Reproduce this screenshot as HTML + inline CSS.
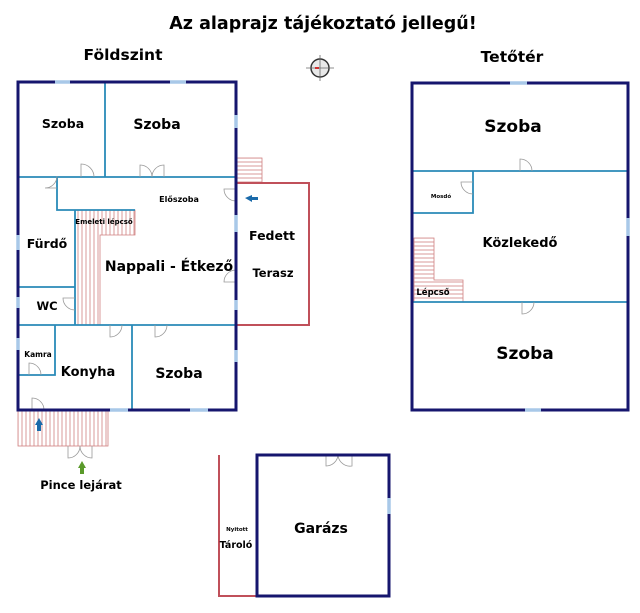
<!DOCTYPE html>
<html><head><meta charset="utf-8"><style>
body{margin:0;background:#fff;width:640px;height:608px;overflow:hidden}
text{font-family:"DejaVu Sans","Liberation Sans",sans-serif;font-weight:bold;fill:#000}
</style></head><body>
<svg width="640" height="608" viewBox="0 0 640 608" xmlns="http://www.w3.org/2000/svg">
<defs>
<pattern id="hv" width="4" height="10" patternUnits="userSpaceOnUse"><line x1="2" y1="0" x2="2" y2="10" stroke="#d08080" stroke-width="0.8"/></pattern>
<pattern id="hh" width="10" height="4" patternUnits="userSpaceOnUse"><line x1="0" y1="2" x2="10" y2="2" stroke="#d08080" stroke-width="0.8"/></pattern>
</defs>
<text x="323" y="29" font-size="17.5" text-anchor="middle">Az alaprajz tájékoztató jellegű!</text>
<text x="123" y="60" font-size="15.5" text-anchor="middle">Földszint</text>
<text x="512" y="62" font-size="15.5" text-anchor="middle">Tetőtér</text>
<!-- compass -->
<circle cx="320" cy="68" r="9" fill="#e8e8e8" stroke="#333" stroke-width="1.5"/>
<line x1="320" y1="55" x2="320" y2="81" stroke="#666" stroke-width="0.8"/>
<line x1="306" y1="68" x2="334" y2="68" stroke="#666" stroke-width="0.8"/>
<rect x="315" y="67" width="4" height="2" fill="#d03030"/>

<rect x="236" y="158" width="26" height="25" fill="url(#hh)" stroke="#d08080" stroke-width="0.8"/>
<path d="M75 210 H135 V235 H100 V325 H75 Z" fill="url(#hv)" stroke="#d08080" stroke-width="0.8"/>
<rect x="18" y="410" width="90" height="36" fill="url(#hv)" stroke="#d08080" stroke-width="0.8"/>
<path d="M414 238 H434 V280 H463 V302 H414 Z" fill="url(#hh)" stroke="#d08080" stroke-width="0.8"/>

<rect x="236" y="183" width="73" height="142" fill="none" stroke="#c0505a" stroke-width="2"/>
<path d="M219 455 V596 H257" fill="none" stroke="#c0505a" stroke-width="2"/>

<g stroke="#2a8ab8" stroke-width="1.8" fill="none">
<path d="M105 82 V177 M18 177 H236 M57 177 V210 H135 M75 210 V325 M18 287 H75 M18 325 H236 M55 325 V375 H18 M132 325 V410"/>
<path d="M412 171 H628 M473 171 V213 H412 M412 302 H628"/>
</g>
<g stroke="#999" stroke-width="0.8" fill="none">
<path d="M81 177 V164 A13 13 0 0 1 94 177"/>
<path d="M140 177 V165 A12 12 0 0 1 152 177 M164 177 V165 A12 12 0 0 0 152 177"/>
<path d="M57 188 H45 A12 12 0 0 0 57 176"/>
<path d="M236 189 H224 A12 12 0 0 0 236 201"/>
<path d="M236 282 H224 A12 12 0 0 1 236 270"/>
<path d="M75 298 H63 A12 12 0 0 0 75 310"/>
<path d="M110 325 V337 A12 12 0 0 0 122 325"/>
<path d="M155 325 V337 A12 12 0 0 0 167 325"/>
<path d="M29 375 V363 A12 12 0 0 1 41 375"/>
<path d="M32 410 V398 A12 12 0 0 1 44 410"/>
<path d="M68 446 V458 A12 12 0 0 0 80 446 M92 446 V458 A12 12 0 0 1 80 446"/>
<path d="M326 455 V466 A12 12 0 0 0 338 455 M352 455 V466 A12 12 0 0 1 338 455"/>
<path d="M520 171 V159 A12 12 0 0 1 532 171"/>
<path d="M473 182 H461 A12 12 0 0 0 473 194"/>
<path d="M522 302 V314 A12 12 0 0 0 534 302"/>
</g>
<g stroke="#16166e" stroke-width="3" fill="none">
<rect x="18" y="82" width="218" height="328"/>
<rect x="412" y="83" width="216" height="327"/>
<rect x="257" y="455" width="132" height="141"/>
</g>
<g stroke="#a8c8e8" stroke-width="3.5">
<line x1="55" y1="82" x2="70" y2="82"/><line x1="170" y1="82" x2="186" y2="82"/>
<line x1="236" y1="115" x2="236" y2="128"/><line x1="236" y1="215" x2="236" y2="232"/>
<line x1="236" y1="300" x2="236" y2="310"/><line x1="236" y1="350" x2="236" y2="362"/>
<line x1="18" y1="235" x2="18" y2="250"/><line x1="18" y1="297" x2="18" y2="308"/><line x1="18" y1="338" x2="18" y2="350"/>
<line x1="110" y1="410" x2="128" y2="410"/><line x1="190" y1="410" x2="208" y2="410"/>
<line x1="510" y1="83" x2="527" y2="83"/><line x1="525" y1="410" x2="541" y2="410"/>
<line x1="628" y1="218" x2="628" y2="236"/><line x1="389" y1="498" x2="389" y2="514"/>
</g>
<path d="M245 198 L252 195 V197 H258 V200 H252 V202 Z" fill="#1a6aaa"/>
<path d="M39 418 L35 425 H37 V431 H41 V425 H43 Z" fill="#1a6aaa"/>
<path d="M82 461 L78 468 H80 V474 H84 V468 H86 Z" fill="#5a9a2a"/>

<text x="63" y="128" font-size="12.5" text-anchor="middle">Szoba</text>
<text x="157" y="129" font-size="14" text-anchor="middle">Szoba</text>
<text x="179" y="202" font-size="8" text-anchor="middle">Előszoba</text>
<text x="104" y="224" font-size="7" text-anchor="middle">Emeleti lépcső</text>
<text x="47" y="248" font-size="12.5" text-anchor="middle">Fürdő</text>
<text x="169" y="271" font-size="14" text-anchor="middle">Nappali - Étkező</text>
<text x="272" y="240" font-size="12.5" text-anchor="middle">Fedett</text>
<text x="273" y="277" font-size="11.5" text-anchor="middle">Terasz</text>
<text x="47" y="310" font-size="11.5" text-anchor="middle">WC</text>
<text x="38" y="357" font-size="7.5" text-anchor="middle">Kamra</text>
<text x="88" y="376" font-size="13" text-anchor="middle">Konyha</text>
<text x="179" y="378" font-size="14" text-anchor="middle">Szoba</text>
<text x="81" y="489" font-size="11.5" text-anchor="middle">Pince lejárat</text>
<text x="513" y="132" font-size="17" text-anchor="middle">Szoba</text>
<text x="441" y="198" font-size="5.5" text-anchor="middle">Mosdó</text>
<text x="520" y="247" font-size="13" text-anchor="middle">Közlekedő</text>
<text x="433" y="295" font-size="8.5" text-anchor="middle">Lépcső</text>
<text x="525" y="359" font-size="17" text-anchor="middle">Szoba</text>
<text x="321" y="533" font-size="14" text-anchor="middle">Garázs</text>
<text x="237" y="531" font-size="5.5" text-anchor="middle">Nyitott</text>
<text x="236" y="548" font-size="9.5" text-anchor="middle">Tároló</text>
</svg>
</body></html>
